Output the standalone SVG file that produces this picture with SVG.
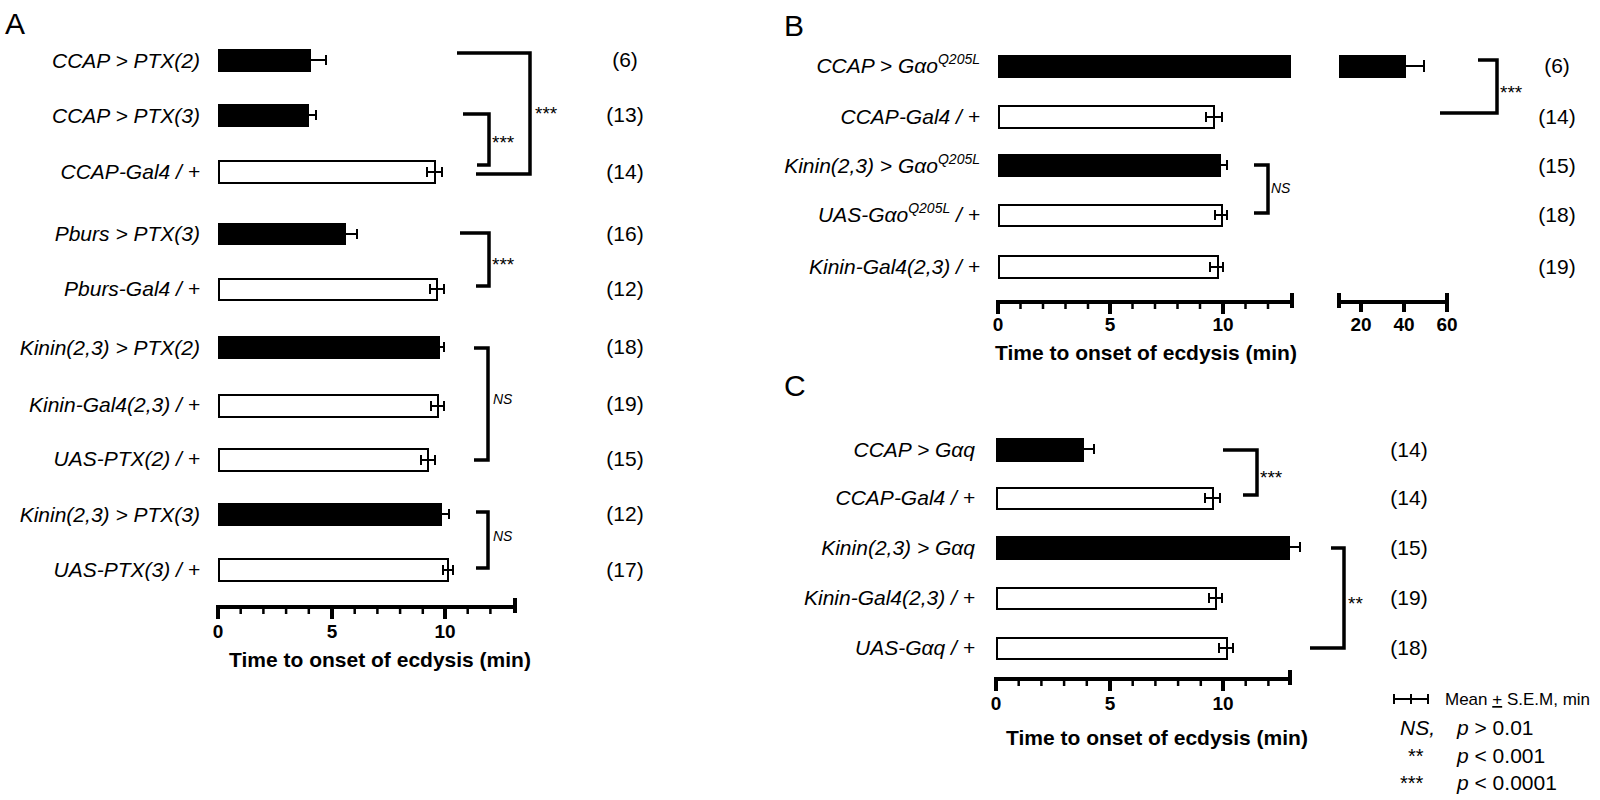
<svg xmlns="http://www.w3.org/2000/svg" width="1600" height="800" viewBox="0 0 1600 800">
<style>
text{font-family:"Liberation Sans Narrow","Arial Narrow","Liberation Sans",Arial,sans-serif;fill:#000}
.lab{font-size:21px;font-style:italic;text-anchor:end}
.n{font-size:21px;text-anchor:middle}
.pl{font-size:30px;font-family:"Liberation Sans",Arial,sans-serif}
.st{font-size:19px;font-family:"Liberation Sans",Arial,sans-serif}
.ns{font-size:14px;font-style:italic}
.ax{font-size:19px;font-weight:bold;text-anchor:middle}
.ttl{font-size:21px;font-weight:bold;text-anchor:middle}
.b{fill:#000}
.w{fill:#fff;stroke:#000;stroke-width:2}
.e{stroke:#000;stroke-width:2;fill:none}
.br{stroke:#000;stroke-width:3.5;fill:none}
.axl{stroke:#000;stroke-width:4;fill:none}
.tk{stroke:#000;stroke-width:2.5}
</style>
<rect width="1600" height="800" fill="#fff"/>
<text class="pl" x="5" y="34">A</text>
<text class="pl" x="784" y="36">B</text>
<text class="pl" x="784" y="396">C</text>

<g id="panelA">
<g id="a1"><text class="lab" x="200" y="68">CCAP &gt; PTX(2)</text><rect class="b" x="218" y="49" width="93" height="23"/><path class="e" d="M311 60H326M326 55V65"/><text class="n" x="625" y="67">(6)</text></g>
<g id="a2"><text class="lab" x="200" y="123">CCAP &gt; PTX(3)</text><rect class="b" x="218" y="104" width="91" height="23"/><path class="e" d="M309 115H316M316 110V120"/><text class="n" x="625" y="122">(13)</text></g>
<g id="a3"><text class="lab" x="200" y="179">CCAP-Gal4 / +</text><rect class="w" x="219" y="161" width="216" height="22"/><path class="e" d="M427 172H442M427 167V177M442 167V177"/><text class="n" x="625" y="179">(14)</text></g>
<g id="a4"><text class="lab" x="200" y="241">Pburs &gt; PTX(3)</text><rect class="b" x="218" y="223" width="128" height="22"/><path class="e" d="M346 234H357M357 229V239"/><text class="n" x="625" y="241">(16)</text></g>
<g id="a5"><text class="lab" x="200" y="296">Pburs-Gal4 / +</text><rect class="w" x="219" y="279" width="218" height="21"/><path class="e" d="M430 289H444M430 284V294M444 284V294"/><text class="n" x="625" y="296">(12)</text></g>
<g id="a6"><text class="lab" x="200" y="355">Kinin(2,3) &gt; PTX(2)</text><rect class="b" x="218" y="336" width="222" height="23"/><path class="e" d="M440 347H444M444 342V352"/><text class="n" x="625" y="354">(18)</text></g>
<g id="a7"><text class="lab" x="200" y="412">Kinin-Gal4(2,3) / +</text><rect class="w" x="219" y="395" width="219" height="22"/><path class="e" d="M431 406H444M431 401V411M444 401V411"/><text class="n" x="625" y="411">(19)</text></g>
<g id="a8"><text class="lab" x="200" y="466">UAS-PTX(2) / +</text><rect class="w" x="219" y="449" width="209" height="22"/><path class="e" d="M421 460H435M421 455V465M435 455V465"/><text class="n" x="625" y="466">(15)</text></g>
<g id="a9"><text class="lab" x="200" y="522">Kinin(2,3) &gt; PTX(3)</text><rect class="b" x="218" y="503" width="224" height="23"/><path class="e" d="M442 514H449M449 509V519"/><text class="n" x="625" y="521">(12)</text></g>
<g id="a10"><text class="lab" x="200" y="577">UAS-PTX(3) / +</text><rect class="w" x="219" y="559" width="229" height="22"/><path class="e" d="M443 570H453M443 565V575M453 565V575"/><text class="n" x="625" y="577">(17)</text></g>
<g id="axisA">
<path class="axl" d="M218 607H515M218 605V619M332 605V619M445 605V619M515 598V613"/>
<path class="tk" d="M240.7 607V614M263.4 607V614M286.1 607V614M308.8 607V614M354.7 607V614M377.4 607V614M400.1 607V614M422.8 607V614M467.7 607V614M490.4 607V614"/>
<text class="ax" x="218" y="638">0</text><text class="ax" x="332" y="638">5</text><text class="ax" x="445" y="638">10</text>
<text class="ttl" x="380" y="667">Time to onset of ecdysis (min)</text>
</g>
</g>

<g id="panelB">
<g id="b1"><text class="lab" x="980" y="73">CCAP &gt; Gαo<tspan font-size="14" dy="-9">Q205L</tspan></text><rect class="b" x="998" y="55" width="293" height="23"/><rect class="b" x="1339" y="55" width="67" height="23"/><path class="e" d="M1406 66H1424M1424 60V72"/><text class="n" x="1557" y="73">(6)</text></g>
<g id="b2"><text class="lab" x="980" y="124">CCAP-Gal4 / +</text><rect class="w" x="999" y="106" width="215" height="22"/><path class="e" d="M1206 117H1222M1206 112V122M1222 112V122"/><text class="n" x="1557" y="124">(14)</text></g>
<g id="b3"><text class="lab" x="980" y="173">Kinin(2,3) &gt; Gαo<tspan font-size="14" dy="-9">Q205L</tspan></text><rect class="b" x="998" y="154" width="223" height="23"/><path class="e" d="M1221 165H1227M1227 160V170"/><text class="n" x="1557" y="173">(15)</text></g>
<g id="b4"><text class="lab" x="980" y="222">UAS-Gαo<tspan font-size="14" dy="-9">Q205L</tspan><tspan dy="9"> / +</tspan></text><rect class="w" x="999" y="205" width="223" height="21"/><path class="e" d="M1215 215H1227M1215 210V220M1227 210V220"/><text class="n" x="1557" y="222">(18)</text></g>
<g id="b5"><text class="lab" x="980" y="274">Kinin-Gal4(2,3) / +</text><rect class="w" x="999" y="256" width="219" height="22"/><path class="e" d="M1210 267H1223M1210 262V272M1223 262V272"/><text class="n" x="1557" y="274">(19)</text></g>
<g id="axisB">
<path class="axl" d="M998 302H1292M998 300V314M1110 300V314M1223 300V314M1292 293V308M1339 302H1448M1339 293V308M1361 302V312M1404 302V312M1447 293V312"/>
<path class="tk" d="M1020.5 302V309M1043 302V309M1065.5 302V309M1088 302V309M1132.5 302V309M1155 302V309M1177.5 302V309M1200 302V309M1245.5 302V309M1268 302V309"/>
<text class="ax" x="998" y="331">0</text><text class="ax" x="1110" y="331">5</text><text class="ax" x="1223" y="331">10</text>
<text class="ax" x="1361" y="331">20</text><text class="ax" x="1404" y="331">40</text><text class="ax" x="1447" y="331">60</text>
<text class="ttl" x="1146" y="360">Time to onset of ecdysis (min)</text>
</g>
</g>

<g id="panelC">
<g id="c1"><text class="lab" x="975" y="457">CCAP &gt; Gαq</text><rect class="b" x="996" y="438" width="88" height="24"/><path class="e" d="M1084 449H1094M1094 444V454"/><text class="n" x="1409" y="457">(14)</text></g>
<g id="c2"><text class="lab" x="975" y="505">CCAP-Gal4 / +</text><rect class="w" x="997" y="488" width="216" height="21"/><path class="e" d="M1205 498H1220M1205 493V503M1220 493V503"/><text class="n" x="1409" y="505">(14)</text></g>
<g id="c3"><text class="lab" x="975" y="555">Kinin(2,3) &gt; Gαq</text><rect class="b" x="996" y="536" width="294" height="24"/><path class="e" d="M1290 547H1300M1300 542V552"/><text class="n" x="1409" y="555">(15)</text></g>
<g id="c4"><text class="lab" x="975" y="605">Kinin-Gal4(2,3) / +</text><rect class="w" x="997" y="588" width="219" height="21"/><path class="e" d="M1209 598H1222M1209 593V603M1222 593V603"/><text class="n" x="1409" y="605">(19)</text></g>
<g id="c5"><text class="lab" x="975" y="655">UAS-Gαq / +</text><rect class="w" x="997" y="638" width="230" height="21"/><path class="e" d="M1219 648H1233M1219 643V653M1233 643V653"/><text class="n" x="1409" y="655">(18)</text></g>
<g id="axisC">
<path class="axl" d="M996 679H1290M996 677V691M1110 677V691M1223 677V691M1290 670V685"/>
<path class="tk" d="M1018.7 679V686M1041.4 679V686M1064.1 679V686M1086.8 679V686M1132.7 679V686M1155.4 679V686M1178.1 679V686M1200.8 679V686M1245.7 679V686M1268.4 679V686"/>
<text class="ax" x="996" y="710">0</text><text class="ax" x="1110" y="710">5</text><text class="ax" x="1223" y="710">10</text>
<text class="ttl" x="1157" y="745">Time to onset of ecdysis (min)</text>
</g>
</g>

<g id="connectors">
<path class="br" d="M457 53H530V174H476"/><text class="st" x="535" y="120">***</text>
<path class="br" d="M463 114H489V165H477"/><text class="st" x="492" y="149">***</text>
<path class="br" d="M460 233H489V286H476"/><text class="st" x="492" y="271">***</text>
<path class="br" d="M474 348H488V460H474"/><text class="ns" x="493" y="404">NS</text>
<path class="br" d="M476 512H488V568H476"/><text class="ns" x="493" y="541">NS</text>
<path class="br" d="M1478 60H1497V113H1440"/><text class="st" x="1500" y="99">***</text>
<path class="br" d="M1254 165H1268V213H1254"/><text class="ns" x="1271" y="193">NS</text>
<path class="br" d="M1223 450H1257V495H1243"/><text class="st" x="1260" y="484">***</text>
<path class="br" d="M1331 548H1344V648H1310"/><text class="st" x="1348" y="610">**</text>
</g>

<g id="legend">
<path class="e" stroke-width="3" d="M1394 699H1428M1394 694V704M1411 694V704M1428 694V704"/>
<text x="1445" y="705" font-size="17">Mean <tspan text-decoration="underline">+</tspan> S.E.M, min</text>
<text x="1400" y="735" font-size="21" font-style="italic">NS,</text><text x="1457" y="735" font-size="21"><tspan font-style="italic">p</tspan> &gt; 0.01</text>
<text x="1408" y="763" font-size="20">**</text><text x="1457" y="763" font-size="21"><tspan font-style="italic">p</tspan> &lt; 0.001</text>
<text x="1400" y="790" font-size="20">***</text><text x="1457" y="790" font-size="21"><tspan font-style="italic">p</tspan> &lt; 0.0001</text>
</g>
</svg>
